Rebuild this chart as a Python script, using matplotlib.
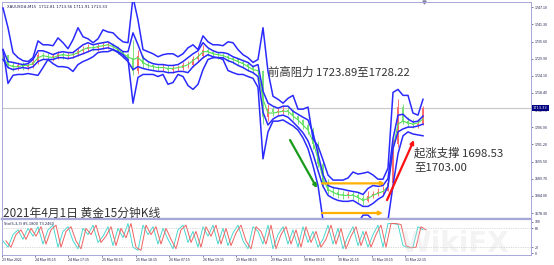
import numpy as np
import matplotlib.pyplot as plt
from matplotlib.patches import FancyArrowPatch
from matplotlib.transforms import blended_transform_factory

plt.rcParams['font.family'] = ['Noto Sans CJK SC', 'DejaVu Sans']

# XAUUSD# M15, 23 Mar - 31 Mar 2021, one sample every ~7 bars
close = [1731.2, 1727.6, 1727.2, 1727.6, 1727.2, 1727.6, 1728.9, 1731.2, 1730.9, 1730.5,
         1730.5, 1731.5, 1730.9, 1731.2, 1731.5, 1732.5, 1733.2, 1733.9, 1733.5, 1734.2,
         1734.5, 1734.5, 1733.9, 1732.5, 1731.5, 1730.2, 1725.6, 1730.9, 1728.2, 1727.6,
         1727.2, 1726.6, 1726.9, 1726.2, 1726.6, 1726.9, 1727.6, 1727.9, 1729.6, 1730.9,
         1732.9, 1732.2, 1731.5, 1731.2, 1730.9, 1730.2, 1729.6, 1728.9, 1728.2, 1727.2,
         1726.2, 1725.6, 1710.3, 1713.0, 1712.0, 1712.3, 1712.7, 1712.3, 1710.7, 1709.4,
         1707.7, 1706.0, 1701.4, 1694.8, 1688.8, 1685.8, 1685.2, 1684.5, 1684.2, 1684.5,
         1684.2, 1683.2, 1682.2, 1683.9, 1684.5, 1685.2, 1685.8, 1688.2, 1701.4, 1713.7,
         1709.0, 1708.0, 1707.7, 1708.0, 1713.3]
high = [1732.9, 1730.9, 1728.6, 1728.6, 1728.6, 1728.6, 1730.2, 1732.2, 1732.2, 1731.9,
        1731.9, 1732.5, 1732.2, 1732.2, 1732.5, 1733.5, 1734.2, 1734.9, 1734.5, 1735.2,
        1735.5, 1735.5, 1735.2, 1734.2, 1732.9, 1731.9, 1736.2, 1732.9, 1731.2, 1728.9,
        1728.2, 1727.9, 1728.2, 1727.6, 1727.6, 1727.9, 1728.6, 1729.2, 1730.9, 1732.2,
        1734.5, 1733.5, 1732.9, 1732.2, 1731.9, 1731.5, 1730.9, 1730.2, 1729.6, 1728.6,
        1727.6, 1726.9, 1726.2, 1714.7, 1714.0, 1713.7, 1714.3, 1713.7, 1713.0, 1711.0,
        1709.7, 1708.4, 1707.0, 1702.4, 1695.8, 1689.8, 1687.2, 1686.5, 1685.8, 1685.8,
        1685.5, 1685.2, 1684.2, 1685.5, 1685.8, 1686.5, 1687.2, 1689.8, 1703.1, 1716.3,
        1714.7, 1710.3, 1709.7, 1709.7, 1714.0]
low = [1729.6, 1726.6, 1725.9, 1726.2, 1726.2, 1726.2, 1726.9, 1728.2, 1729.6, 1729.2,
       1729.2, 1729.9, 1729.9, 1729.9, 1730.2, 1730.9, 1731.5, 1732.2, 1732.5, 1732.5,
       1733.2, 1733.2, 1732.5, 1731.5, 1730.2, 1728.9, 1724.3, 1724.9, 1726.9, 1726.6,
       1726.2, 1725.6, 1725.6, 1725.2, 1725.2, 1725.6, 1726.2, 1726.6, 1727.2, 1728.9,
       1730.2, 1730.9, 1730.2, 1729.9, 1729.6, 1728.9, 1728.2, 1727.6, 1726.9, 1725.9,
       1724.9, 1724.3, 1708.0, 1709.0, 1710.7, 1711.0, 1711.3, 1711.0, 1709.4, 1708.0,
       1706.4, 1704.7, 1699.8, 1693.8, 1687.2, 1684.5, 1683.9, 1683.2, 1682.9, 1683.2,
       1682.9, 1681.9, 1680.9, 1681.9, 1683.2, 1683.9, 1684.5, 1685.5, 1686.5, 1700.4,
       1708.0, 1707.0, 1706.7, 1706.7, 1707.7]
ma_line = [1730.2, 1727.9, 1727.2, 1727.2, 1727.6, 1727.6, 1728.2, 1730.2, 1730.9, 1730.5,
           1730.2, 1730.9, 1731.2, 1730.9, 1731.2, 1731.9, 1732.9, 1733.5, 1733.5, 1733.9,
           1734.2, 1734.5, 1733.9, 1732.9, 1731.5, 1730.5, 1729.6, 1730.2, 1728.6, 1727.6,
           1727.2, 1726.9, 1726.9, 1726.6, 1726.6, 1726.9, 1727.2, 1727.9, 1729.2, 1730.5,
           1732.2, 1732.2, 1731.5, 1731.2, 1730.9, 1730.2, 1729.6, 1728.9, 1728.2, 1727.2,
           1726.2, 1725.9, 1716.3, 1711.7, 1711.7, 1712.0, 1712.3, 1712.3, 1710.7, 1709.4,
           1707.7, 1706.0, 1702.1, 1696.4, 1689.8, 1686.2, 1685.2, 1684.5, 1684.2, 1684.2,
           1684.2, 1683.5, 1682.5, 1683.2, 1684.2, 1684.9, 1685.5, 1687.2, 1699.8, 1708.0,
           1709.0, 1708.4, 1708.0, 1708.4, 1709.7]
band_in_up = [1732.9, 1728.9, 1728.6, 1728.2, 1727.9, 1728.2, 1729.6, 1732.5, 1732.5, 1731.9,
              1731.2, 1731.9, 1732.2, 1731.9, 1731.9, 1733.2, 1734.5, 1735.2, 1734.5, 1734.9,
              1735.2, 1735.5, 1734.5, 1733.5, 1732.2, 1732.2, 1738.5, 1734.5, 1730.2, 1728.9,
              1728.2, 1727.9, 1727.9, 1727.6, 1727.6, 1727.9, 1728.9, 1730.2, 1731.5, 1732.5,
              1735.2, 1733.5, 1732.5, 1731.9, 1731.9, 1731.5, 1730.5, 1729.9, 1729.2, 1728.6,
              1727.2, 1727.9, 1719.0, 1715.0, 1714.0, 1713.3, 1714.0, 1714.0, 1712.3, 1711.3,
              1710.3, 1709.4, 1705.1, 1698.1, 1691.1, 1687.5, 1686.8, 1686.5, 1686.2, 1685.8,
              1685.5, 1685.2, 1684.5, 1686.5, 1687.5, 1687.2, 1687.5, 1689.8, 1703.1, 1711.0,
              1711.3, 1709.7, 1708.7, 1709.0, 1710.7]
band_in_lo = [1729.6, 1726.9, 1726.2, 1726.6, 1726.9, 1726.6, 1727.2, 1728.9, 1729.6, 1729.6,
              1729.6, 1730.2, 1730.2, 1729.9, 1730.2, 1730.9, 1731.5, 1732.2, 1732.9, 1732.9,
              1733.2, 1733.5, 1732.9, 1731.9, 1730.5, 1728.9, 1726.2, 1727.2, 1726.6, 1726.2,
              1725.9, 1725.6, 1725.6, 1725.2, 1725.2, 1725.6, 1725.6, 1725.2, 1727.2, 1728.6,
              1730.2, 1731.2, 1730.5, 1730.2, 1730.2, 1729.2, 1728.6, 1727.6, 1726.9, 1725.9,
              1725.2, 1723.9, 1712.0, 1707.7, 1709.7, 1710.7, 1711.0, 1710.3, 1708.7, 1707.0,
              1705.1, 1702.4, 1698.1, 1692.5, 1687.2, 1684.2, 1683.2, 1682.5, 1682.2, 1682.2,
              1682.5, 1681.5, 1680.5, 1680.5, 1681.5, 1682.9, 1683.9, 1687.2, 1699.8, 1705.4,
              1706.4, 1707.0, 1707.0, 1707.4, 1708.0]
band_out_up = [1746.8, 1740.2, 1731.9, 1730.2, 1729.2, 1728.9, 1730.2, 1735.8, 1734.5, 1734.5,
               1734.2, 1736.8, 1735.2, 1733.2, 1736.2, 1740.2, 1737.2, 1736.5, 1735.2, 1736.5,
               1739.5, 1738.8, 1738.5, 1736.8, 1735.5, 1735.2, 1750.4, 1742.8, 1732.9, 1732.2,
               1731.5, 1730.5, 1731.2, 1731.5, 1731.5, 1730.5, 1731.5, 1733.5, 1734.5, 1732.9,
               1737.5, 1735.5, 1734.5, 1734.5, 1734.2, 1735.5, 1735.2, 1732.9, 1731.2, 1730.2,
               1728.6, 1729.6, 1740.2, 1725.6, 1717.3, 1716.3, 1715.0, 1716.6, 1717.6, 1713.0,
               1713.0, 1713.7, 1703.1, 1700.7, 1696.0, 1691.0, 1689.3, 1689.3, 1689.3, 1690.0,
               1692.0, 1691.3, 1691.6, 1692.0, 1691.0, 1689.6, 1689.6, 1693.3, 1718.6, 1719.6,
               1717.6, 1717.6, 1711.7, 1711.0, 1716.3]
band_out_lo = [1732.9, 1721.6, 1724.3, 1724.6, 1724.6, 1724.9, 1724.6, 1724.3, 1726.9, 1729.6,
               1728.2, 1727.2, 1727.2, 1726.9, 1725.6, 1727.9, 1728.9, 1729.6, 1730.5, 1731.9,
               1732.2, 1732.2, 1732.9, 1732.2, 1731.2, 1729.6, 1715.0, 1723.6, 1724.6, 1724.6,
               1724.6, 1723.9, 1724.6, 1721.3, 1721.9, 1724.6, 1723.9, 1720.9, 1719.6, 1721.3,
               1726.2, 1729.6, 1730.2, 1730.2, 1729.6, 1725.9, 1725.2, 1724.6, 1724.6, 1723.9,
               1723.3, 1720.3, 1696.4, 1705.4, 1709.0, 1709.0, 1709.4, 1708.4, 1707.4, 1706.0,
               1703.4, 1699.8, 1694.1, 1687.5, 1675.9, 1674.9, 1674.6, 1674.6, 1674.9, 1675.3,
               1675.3, 1674.9, 1677.6, 1677.6, 1675.9, 1674.9, 1674.6, 1675.9, 1687.5, 1698.1,
               1704.1, 1705.4, 1704.7, 1704.4, 1704.1]
stoch_k = [40, 20, 60, 75, 45, 80, 55, 85, 30, 75,
           90, 20, 70, 85, 40, 15, 80, 60, 90, 35,
           55, 85, 25, 80, 50, 95, 20, 10, 90, 60,
           85, 30, 80, 45, 15, 75, 90, 35, 70, 20,
           85, 55, 90, 30, 80, 25, 65, 90, 40, 15,
           85, 70, 30, 90, 15, 60, 85, 30, 75, 20,
           85, 35, 70, 20, 45, 90, 30, 80, 15, 55,
           85, 25, 70, 20, 60, 90, 20, 95, 95, 92,
           25, 18, 20, 85, 75]

price_ticks = [1747.10, 1741.30, 1735.60, 1729.90, 1724.10, 1718.40, 1712.70,
               1706.90, 1701.20, 1695.50, 1689.70, 1684.00, 1678.30]
last_price = 1713.33
stoch_ticks = [0, 20, 80, 100]
date_pos = [-0.2, 6.4, 13, 19.8, 26.6, 33.2, 40, 46.6, 53.6, 60.2, 67, 73.8, 80.4]
date_labels = ['23 Mar 2021', '24 Mar 05:15', '24 Mar 17:15', '25 Mar 06:15', '25 Mar 18:15',
               '26 Mar 07:15', '26 Mar 19:15', '29 Mar 08:15', '29 Mar 20:15', '30 Mar 09:15',
               '30 Mar 21:15', '31 Mar 10:15', '31 Mar 22:15']

# annotations: (x0, y0, x1, y1, colour)
arrows = [(57.4, 1702.7, 62.8, 1686.6, '#1a9a1a'),
          (63.8, 1688.2, 76.4, 1688.2, '#ffb000'),
          (63.8, 1678.3, 76.0, 1678.3, '#ffb000'),
          (76.8, 1682.6, 82.2, 1702.7, '#ff1010')]

x = np.arange(len(close))
opens = np.r_[close[0], close[:-1]]
cl = np.array(close)

fig = plt.figure(figsize=(5.54, 2.65), dpi=100)
ax = fig.add_axes([2/554, 1 - 219/265, 529/554, 217/265])
ax2 = fig.add_axes([2/554, 1 - 255/265, 529/554, 36/265], sharex=ax)

frame = '#a8a8d8'
txt = '#1c1c50'

# candles
up = cl >= opens
ax.vlines(x, low, high, colors=np.where(up, '#ff5a5a', '#66d866'), lw=0.6, zorder=2)
body_lo = np.minimum(opens, cl)
body_h = np.maximum(np.abs(cl - opens), 0.25)
ax.bar(x, body_h, bottom=body_lo, width=0.45, color=np.where(up, '#ff6b6b', '#7ae07a'),
       linewidth=0, zorder=2)

ax.plot(x, ma_line, color='#55e055', lw=0.8, zorder=3)
for band in (band_in_up, band_in_lo, band_out_up, band_out_lo):
    ax.plot(x, band, color='#2a2aff', lw=1.1, zorder=4)

ax.axhline(last_price, color='#c8c8c8', lw=0.8, zorder=1)

for x0, y0, x1, y1, c in arrows:
    ax.add_patch(FancyArrowPatch((x0, y0), (x1, y1), arrowstyle='-|>', color=c, lw=1.6,
                                 mutation_scale=5, shrinkA=0, shrinkB=0, zorder=8))

ax.text(53, 1725.4, '前高阻力 1723.89至1728.22', fontsize=8.2, color='#333333',
        va='center', ha='left')
ax.text(82.2, 1698.3, '起涨支撑 1698.53', fontsize=8.2, color='#333333', va='center', ha='left')
ax.text(82.2, 1693.7, '至1703.00', fontsize=8.2, color='#333333', va='center', ha='left')

ax.set_xlim(-0.2, 105.6)
ax.set_ylim(1676.3, 1748.8)
ax.yaxis.tick_right()
ax.set_yticks(price_ticks)
ax.set_yticklabels([f'{v:.2f}' for v in price_ticks])
ax.tick_params(axis='y', labelsize=2.6, length=1.5, width=0.4, pad=1, colors=txt)
ax.tick_params(axis='x', bottom=False, labelbottom=False)
for s in ax.spines.values():
    s.set_color(frame)
    s.set_linewidth(0.7)
ax.spines['bottom'].set_linewidth(1.6)

yt = blended_transform_factory(ax.transAxes, ax.transData)
ax.text(1.004, last_price, f'{last_price:.2f}', transform=yt, fontsize=2.6, color='white',
        va='center', ha='left', family='DejaVu Sans',
        bbox=dict(boxstyle='square,pad=0.25', fc='#000080', ec='none'), zorder=6)
ax.plot([len(close) - 0.8], [1], 'v', transform=blended_transform_factory(ax.transData, ax.transAxes),
        color='#8080a0', ms=2.2, clip_on=False)
ax.text(0.01, 0.985, 'XAUUSD#,M15  1712.81 1713.56 1711.91 1713.33', transform=ax.transAxes,
        fontsize=2.8, color=txt, va='top', ha='left', family='DejaVu Sans')

# stochastic
ax2.plot(x, stoch_k, color='#48d8d0', lw=0.7)
ax2.plot(x + 0.6, stoch_k, color='#f06060', lw=0.7)
for lvl in (20, 80):
    ax2.axhline(lvl, color='#b8b8b8', lw=0.5, ls=(0, (1, 1.5)))
ax2.set_ylim(-4.8, 109.5)
ax2.yaxis.tick_right()
ax2.set_yticks(stoch_ticks)
ax2.set_yticklabels([str(v) for v in stoch_ticks])
ax2.tick_params(axis='y', labelsize=2.6, length=1.5, width=0.4, pad=1, colors=txt)
ax2.set_xticks(date_pos)
ax2.set_xticklabels(date_labels, ha='left')
ax2.tick_params(axis='x', labelsize=2.6, length=1.5, width=0.4, pad=1, colors=txt)
for s in ax2.spines.values():
    s.set_color(frame)
    s.set_linewidth(0.7)
ax2.spines['top'].set_linewidth(1.6)
ax2.text(0.003, 0.85, 'Sto(5,3,3) 85.1800 73.2460', transform=ax2.transAxes, fontsize=2.6,
         color=txt, va='center', ha='left', family='DejaVu Sans')

fig.text(3/554, 1 - 217/265, '2021年4月1日 黄金15分钟K线', fontsize=8.5, color='#333333',
         va='baseline', ha='left')
fig.text(0.82, 0.08, 'WikiFX', fontsize=20, color='#d8d8d8', alpha=0.3, ha='center',
         va='center', fontweight='bold', family='DejaVu Sans')

fig.savefig('out.png', dpi=100)
